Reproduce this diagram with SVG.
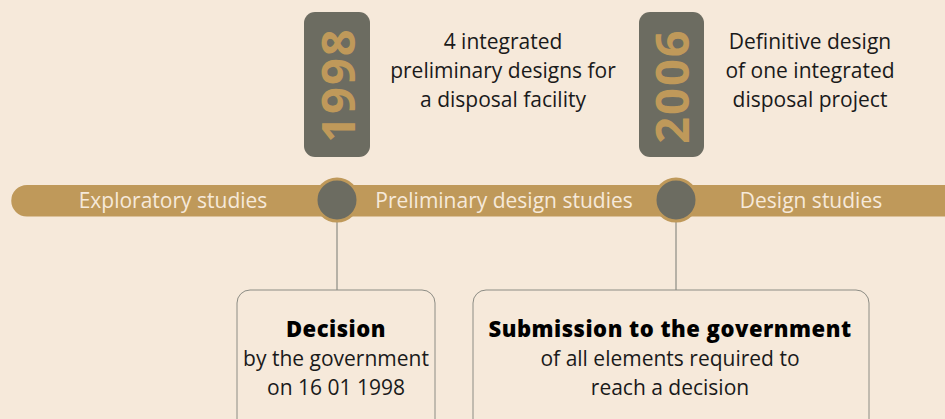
<svg xmlns="http://www.w3.org/2000/svg" width="945" height="419" viewBox="0 0 945 419">
<style>
.t{font-family:"Open Sans","Liberation Sans",sans-serif;font-weight:400;font-size:21px;fill:#1a1a1a;text-anchor:middle}
.b{font-family:"Open Sans","Liberation Sans",sans-serif;font-weight:800;font-size:22px;fill:#000;text-anchor:middle;letter-spacing:0.5px}
.bar{font-family:"Open Sans","Liberation Sans",sans-serif;font-weight:400;font-size:21px;fill:#F6E9DA;text-anchor:middle}
.yr{font-family:"Open Sans","Liberation Sans",sans-serif;font-weight:700;font-size:47px;fill:#BF995A;text-anchor:middle;letter-spacing:2px}
.ybox{fill:#6C6C61}
.box{fill:#F6E9DA;stroke:#8C8C84;stroke-width:1}
.dot{fill:#6C6C61;stroke:#BF995A;stroke-width:3}
.con{stroke:#8C8C84;stroke-width:1.2;fill:none}
</style>
<rect width="945" height="419" fill="#F6E9DA"/>
<g id="timeline">
<path d="M27,185 H945 V216.5 H27 A15.75,15.75 0 0 1 27,185 Z" fill="#BF995A"/>
<text class="bar" x="173" y="208">Exploratory studies</text>
<text class="bar" x="504" y="208">Preliminary design studies</text>
<text class="bar" x="811" y="208">Design studies</text>
</g>
<g id="connectors">
<line class="con" x1="337" y1="222" x2="337" y2="290"/>
<line class="con" x1="676" y1="222" x2="676" y2="290"/>
</g>
<g id="milestone-1998">
<circle class="dot" cx="337" cy="200" r="21"/>
</g>
<g id="milestone-2006">
<circle class="dot" cx="676" cy="200" r="21"/>
</g>
<g id="year-1998">
<rect class="ybox" x="304" y="12" width="66" height="145" rx="11"/>
<text class="yr" transform="translate(355,85) rotate(-90)">1998</text>
</g>
<g id="year-2006">
<rect class="ybox" x="639" y="12" width="65" height="145" rx="11"/>
<text class="yr" transform="translate(689,86) rotate(-90)">2006</text>
</g>
<g id="text-1998">
<text class="t" x="503" y="49">4 integrated</text>
<text class="t" x="503" y="78">preliminary designs for</text>
<text class="t" x="503" y="107">a disposal facility</text>
</g>
<g id="text-2006">
<text class="t" x="810" y="49">Definitive design</text>
<text class="t" x="810" y="78">of one integrated</text>
<text class="t" x="810" y="107">disposal project</text>
</g>
<g id="decision">
<rect class="box" x="237" y="290" width="198" height="150" rx="13"/>
<text class="b" x="336" y="337">Decision</text>
<text class="t" x="336" y="366">by the government</text>
<text class="t" x="336" y="395">on 16 01 1998</text>
</g>
<g id="submission">
<rect class="box" x="473" y="290" width="396" height="150" rx="13"/>
<text class="b" x="670" y="337">Submission to the government</text>
<text class="t" x="670" y="366">of all elements required to</text>
<text class="t" x="670" y="395">reach a decision</text>
</g>
</svg>
